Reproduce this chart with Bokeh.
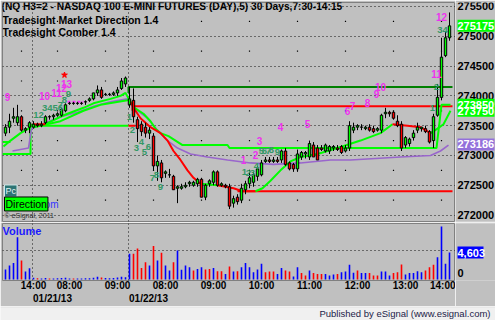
from bokeh.plotting import figure
from bokeh.models import Range1d, FixedTicker, ColumnDataSource, Label, LinearAxis
from bokeh.layouts import column, row
from bokeh.embed import file_html
from bokeh.resources import INLINE
from bokeh.core.properties import value

# ---------------- data (5-minute bars, index 0 = 01/18 13:40) ----------------
bar_open = [273375, 273475, 273625, 273550, 273650, 273425, 273475,
            273475, 273525, 273500, 273550, 273650, 273650, 273675, 273675, 273750, 273875, 273875,
            273875, 273875, 273900, 273925, 273950, 274050, 274100, 274025, 274025, 274025, 274050,
            274125, 274200,
            273850, 273925, 273600, 273525, 273475, 273375, 273325, 272825, 272875, 272700, 272675,
            272650, 272450, 272450, 272475, 272525, 272500, 272525, 272600, 272300, 272525, 272550,
            272725, 272500, 272500, 272475, 272200, 272300, 272250, 272425, 272525, 272550, 272650,
            272675, 272900, 272925, 272900, 272925, 272925, 273075, 272875, 272850, 272775, 272975,
            273025, 272975, 273175, 273125, 273125, 273075, 273075, 273125, 273125, 273150, 273075,
            273125, 273425, 273475, 273475, 273450, 273475, 273450, 273425, 273425, 273700, 273725,
            273725, 273575, 273525, 273175, 273200, 273300, 273425, 273450, 273450, 273400, 273250,
            273675, 273975, 274675, 274975]
bar_high = [273525, 273700, 273800, 273850, 273675, 273475, 273575,
            273575, 273550, 273575, 273675, 273675, 273700, 273725, 273800, 273875, 273900, 273900,
            273900, 273900, 273925, 273975, 274050, 274175, 274150, 274050, 274050, 274075, 274150,
            274300, 274325,
            274150, 274125, 273650, 273575, 273550, 273475, 273375, 273000, 272925, 272750, 272775,
            272675, 272500, 272525, 272550, 272575, 272575, 272625, 272625, 272525, 272600, 272750,
            272750, 272550, 272525, 272525, 272325, 272350, 272525, 272575, 272725, 272725, 272825,
            272925, 272975, 272975, 272975, 272975, 273100, 273125, 272900, 272875, 273100, 273075,
            273075, 273250, 273225, 273175, 273175, 273200, 273175, 273175, 273175, 273175, 273175,
            273575, 273550, 273525, 273525, 273500, 273525, 273500, 273475, 273700, 273800, 273750,
            273750, 273675, 273575, 273325, 273300, 273425, 273550, 273475, 273500, 273425, 273700,
            274200, 274975, 275075, 275400]
bar_low = [273325, 273375, 273550, 273500, 273400, 273375, 273375,
           273450, 273475, 273475, 273525, 273600, 273600, 273650, 273650, 273725, 273850, 273850,
           273850, 273850, 273850, 273900, 273925, 274000, 273950, 274000, 274000, 274000, 274000,
           274100, 274150,
           273800, 273550, 273225, 273325, 273300, 273275, 272750, 272575, 272550, 272625, 272625,
           272425, 272200, 272425, 272450, 272475, 272475, 272475, 272300, 272250, 272475, 272500,
           272475, 272475, 272450, 272100, 272125, 272175, 272200, 272350, 272450, 272475, 272575,
           272650, 272875, 272875, 272875, 272875, 272875, 272825, 272750, 272725, 272725, 272925,
           272950, 272925, 272975, 272925, 273075, 273050, 273025, 273075, 273075, 273025, 273050,
           273075, 273375, 273425, 273425, 273425, 273400, 273375, 273400, 273375, 273625, 273650,
           273600, 273475, 273075, 273125, 273150, 273250, 273375, 273400, 273375, 273200, 273125,
           273650, 273925, 274650, 274925]
bar_close = [273475, 273575, 273650, 273650, 273425, 273450, 273550,
             273525, 273500, 273525, 273650, 273650, 273675, 273700, 273775, 273850, 273875, 273875,
             273875, 273875, 273900, 273950, 274050, 274100, 273975, 274025, 274025, 274050, 274100,
             274250, 274300,
             273950, 273650, 273450, 273400, 273375, 273425, 272825, 272900, 272625, 272725, 272675,
             272425, 272475, 272475, 272500, 272550, 272550, 272600, 272300, 272500, 272575, 272725,
             272500, 272525, 272475, 272150, 272275, 272225, 272450, 272525, 272625, 272675, 272775,
             272875, 272925, 272900, 272925, 272900, 273075, 272850, 272775, 272775, 273025, 273050,
             273050, 273200, 272975, 272925, 273100, 273175, 273150, 273150, 273100, 273050, 273125,
             273500, 273475, 273500, 273475, 273475, 273425, 273400, 273450, 273675, 273725, 273700,
             273625, 273500, 273125, 273300, 273275, 273375, 273475, 273475, 273400, 273225, 273650,
             273975, 274650, 274975, 275175]
volume = [1700, 2400, 2800, 7200, 3250, 1350, 1900,
          300, 200, 150, 250, 150, 150, 200, 250, 300, 150, 150, 150, 150, 200, 200, 300, 450, 350,
          250, 200, 250, 350, 450, 400,
          4400, 4400, 5300, 1950, 2950, 2400, 5700, 3250, 4550, 2400, 1550, 2950, 4950, 1650, 2400,
          2100, 1550, 1800, 2100, 1700, 1800, 1950, 1400, 1400, 950, 2200, 1350, 1400, 2100, 2800,
          2100, 1250, 1700, 2700, 1250, 1350, 1350, 950, 1950, 1550, 1350, 500, 2100, 1100, 700,
          1550, 1100, 950, 950, 950, 700, 850, 950, 1250, 1350, 2500, 1150, 1550, 1100, 1100, 1100,
          700, 700, 1350, 1350, 700, 1100, 1250, 2550, 850, 1100, 1100, 1400, 1250, 1550, 2100,
          2500, 3800, 9050, 2700, 4603]
volume_up = [1, 1, 1, 1, 0, 1, 1,
             1, 0, 1, 1, 0, 1, 1, 1, 1, 1, 0, 1, 1, 1, 1, 1, 1, 0, 1, 1, 1, 1, 1, 1,
             1, 0, 0, 0, 0, 1, 0, 1, 0, 1, 1, 0, 1, 1, 1, 1,
             0, 1, 1, 0, 0, 1, 0, 0, 1, 0, 1, 0, 1, 1, 1,
             1, 1, 1, 0, 0, 0, 1, 1, 0, 0, 1, 1, 0, 0, 1, 0, 0, 0, 1, 1, 1, 0, 1, 1, 1,
             1, 0, 1, 1, 0, 0, 0, 1, 1, 1, 0, 0, 0, 1, 1, 1, 1, 1, 0, 0, 0, 1, 1, 1, 1]

price_levels = [272000, 272500, 273000, 273500, 274000, 274500, 275000, 275500]
hour_ticks = [4, 13, 25, 37, 49, 61, 73, 85, 97, 109]
hour_labels = ["14:00", "08:00", "09:00", "08:00", "09:00", "10:00", "11:00", "12:00", "13:00", "14:00"]
day_starts = [7, 31]
day_labels = ["01/21/13", "01/22/13"]
volume_grid = [5000]
volume_levels = [0]

# Tradesight Market Direction line: segments and their colours
md_xs = [[-0.5, 1.25, 3.75, 5.75, 6.75],
         [6.75, 10],
         [10, 13.75, 15.5, 19.5, 22, 26.25, 28.75, 30, 31],
         [31, 32, 33.75, 36.25, 38.75, 40.5, 42, 43.75, 45.5, 47, 48.75],
         [48.75, 53],
         [53, 57, 59.25, 62.5],
         [62.5, 64.25, 66.25, 68.75, 71.25, 73.75, 78, 83, 88.75, 93.75, 96.75],
         [96.75, 100.5, 103.75, 106.25],
         [106.25, 108, 109.5, 111.25]]
md_ys = [[273150, 273250, 273375, 273450, 273525],
         [273525, 273525],
         [273525, 273650, 273700, 273800, 273875, 273950, 274000, 274050, 273925],
         [273925, 273800, 273625, 273475, 273375, 273250, 273075, 272925, 272750, 272625, 272525],
         [272525, 272500],
         [272500, 272450, 272400, 272400],
         [272400, 272450, 272575, 272750, 272900, 272975, 273025, 273125, 273250, 273375, 273525],
         [273525, 273500, 273475, 273375],
         [273375, 273450, 273525, 273750]]
md_colors = ["#00ff00", "#ff0000", "#00ff00", "#ff0000", "#00ff00", "#ff0000", "#00ff00", "#ff0000", "#00ff00"]

# Tradesight Comber trailing line
comber_x = [7, 13.75, 19.5, 23.75, 30.5, 31, 32.25, 34.5, 36.25, 37.5, 38.75, 40.75, 42.5, 44.25,
            55.5, 56, 107.75, 109, 111.25]
comber_y = [273475, 273575, 273750, 273850, 273925, 273925, 273800, 273700, 273575, 273450, 273375,
            273325, 273250, 273175, 273175, 273125, 273125, 273850, 273850]

# horizontal level lines
level_xs = [[-0.75, 6.25, 6.25, 30.75], [30.75, 32.5], [30.75, 30.75, 111.75],
            [31.75, 31.75, 111.75], [58, 111.75], [-0.75, 1.25]]
level_ys = [[273025, 273025, 273500, 273500], [273500, 273500], [274050, 274150, 274150],
            [273750, 273825, 273825], [272400, 272400], [273225, 273225]]
level_colors = ["#00ff00", "#ff0000", "#008000", "#ff0000", "#ff0000", "#00ff00"]

# slow average (purple)
purple_x = [1.75, 5.75, 6.5, 10, 13.75, 18, 22, 26.25, 30.5, 32, 35.5, 38, 40.5, 43, 46.25, 50.5,
            55.5, 61.25, 67, 73.75, 81.25, 86.25, 98.75, 106.25, 108.75, 110.75]
purple_y = [273075, 273125, 273450, 273550, 273650, 273725, 273825, 273900, 273950, 273800, 273625,
            273425, 273250, 273125, 273025, 272975, 272925, 272875, 272850, 272875, 272925, 272925,
            272975, 273000, 273075, 273175]

dash_x = [15.5, 19.5]
dash_y = [273900, 273900]
signal_x = [14.75]
signal_y = [274350]

magenta_x = [0.5, 9.75, 12.75, 14, 15.25, 59.5, 62.5, 63.5, 68.75, 75.5, 85.5, 86.75, 90.5, 92.75,
             93.75, 107.75, 109]
magenta_y = [273975, 274000, 274050, 274125, 274200, 272925, 273000, 273250, 273475, 273525, 273750,
             273825, 273875, 274025, 274150, 274375, 275325]
magenta_t = ["9", "10", "11", "12", "13", "1", "2", "3", "4", "5", "6", "7", "8", "9", "10", "11", "12"]

teal_x = [8.25, 11.75, 13.75, 14.75, 15.75, 31, 31.75, 32.75, 34, 34.75, 35.75, 36.75, 37.75, 38.75,
          59.75, 60.75, 61.75, 62.75, 64, 64.75, 65.75, 66.5, 68, 106.75, 107.75, 109.25]
teal_y = [273675, 273800, 273850, 273925, 274025, 273650, 273425, 273125, 273225, 273050, 273150,
          272625, 272675, 272475, 272725, 272700, 272700, 272825, 273075, 273075, 273075, 273100,
          273050, 273800, 274150, 275100]
teal_t = ["12", "3456", "7", "8", "9", "1", "2", "3", "4", "5", "6", "7", "8", "9",
          "1", "2", "3", "4", "5", "6", "7", "8", "9", "1", "2", "34"]

# right-scale value markers: value, box colour
marker_values = [273750, 273850, 273186, 275175]
marker_colors = ["#00ff00", "#00ff00", "#9370db", "#00ff00"]
last_volume = 4603

# ---------------- styling ----------------
BG = "#c0c0c0"
FONT = "Liberation Sans"
UP, DN = "#00ff00", "#ff0000"


def xpx(px):  # window pixel -> bar index (for placing annotations)
    return (px - 5) / 4.0


def ypx(py):  # window pixel -> price (for placing annotations)
    return 273000 + (155 - py) * 16.78


def vpx(py):  # window pixel -> volume (for placing annotations)
    return (279 - py) * 170.5


def style_axis(a, size):
    a.major_label_text_font = FONT
    a.major_label_text_font_size = size
    a.major_label_text_font_style = "bold"
    a.major_label_text_color = "black"
    a.major_tick_line_color = None
    a.minor_tick_line_color = None
    a.major_tick_out = 0
    a.major_tick_in = 0
    a.minor_tick_out = 0
    a.minor_tick_in = 0
    a.axis_line_color = None


def strip(height, y_range, top, bottom):
    s = figure(width=40, height=height, x_range=Range1d(0, 40), y_range=y_range,
               x_axis_location=None, y_axis_location=None, output_backend="svg",
               toolbar_location=None, min_border_left=0, min_border_right=0,
               min_border_top=top, min_border_bottom=bottom,
               background_fill_color=BG, border_fill_color=BG, outline_line_color=None)
    s.grid.visible = False
    return s


xr = Range1d(-0.75, 112.5)
pr = Range1d(271892, 275567)

p = figure(width=455, height=222, x_range=xr, y_range=pr,
           x_axis_location=None, y_axis_location=None, output_backend="svg",
           toolbar_location=None, min_border_left=2, min_border_right=0, min_border_top=2,
           min_border_bottom=1, background_fill_color=BG, border_fill_color=BG,
           outline_line_color="#808080")

p.ygrid.ticker = FixedTicker(ticks=price_levels)
p.xgrid.ticker = FixedTicker(ticks=[d - 0.2 for d in day_starts])
for g in (p.xgrid[0], p.ygrid[0]):
    g.grid_line_color = "black"
    g.grid_line_dash = "1 3"
    g.grid_line_alpha = 0.9

# sparse hour grid dots
mid_levels = [lv + 250 for lv in price_levels[:-1]]
p.scatter([h for h in hour_ticks for _ in mid_levels], [m for _ in hour_ticks for m in mid_levels],
          marker="square", size=1.2, color="black", line_width=0)

# indicator lines
p.multi_line(xs="xs", ys="ys", line_color="c", line_width=2,
             source=ColumnDataSource(dict(xs=level_xs, ys=level_ys, c=level_colors)))
p.line(purple_x, purple_y, line_color="#9966cc", line_width=1.6)
p.line(comber_x, comber_y, line_color="#00ff00", line_width=2)
p.multi_line(xs="xs", ys="ys", line_color="c", line_width=2,
             source=ColumnDataSource(dict(xs=md_xs, ys=md_ys, c=md_colors)))
p.line(dash_x, dash_y, line_color="#ff33ff", line_width=2, line_dash="3 2")
p.scatter(signal_x, signal_y, marker="star", size=6, color="#ff0000")

# candles
idx = list(range(len(bar_open)))
csrc = ColumnDataSource(dict(
    x=idx, h=bar_high, l=bar_low,
    top=[max(o, c) for o, c in zip(bar_open, bar_close)],
    bot=[min(o, c) for o, c in zip(bar_open, bar_close)],
    col=[UP if c >= o else DN for o, c in zip(bar_open, bar_close)]))
p.segment(x0="x", y0="h", x1="x", y1="l", line_color="black", line_width=1, source=csrc)
p.vbar(x="x", top="top", bottom="bot", width=0.6, fill_color="col", line_color="black",
       line_width=1, source=csrc)

# count labels
p.text(x=magenta_x, y=magenta_y, text=magenta_t, text_font=value(FONT), text_font_size="10px",
       text_font_style="bold", text_color="#ee33ee", text_align="center", text_baseline="middle")
p.text(x=teal_x, y=teal_y, text=teal_t, text_font=value(FONT), text_font_size="9.5px",
       text_font_style="bold", text_color="#339966", text_align="center", text_baseline="middle")

# titles
titles = [("(NQ H3=2 - NASDAQ 100 E-MINI FUTURES (DAY),5) 30 Days,7:30-14:15", 1, 6.5, "10.2px"),
          ("Tradesight Market Direction 1.4", 2, 19.5, "10.5px"),
          ("Tradesight Comber 1.4", 2, 31.5, "10.5px")]
for t, px, py, fs in titles:
    p.add_layout(Label(x=xpx(px), y=ypx(py), text=t, text_font=FONT, text_font_size=fs,
                       text_font_style="bold", text_color="black", text_align="left",
                       text_baseline="middle"))

# bottom-left badges
p.add_layout(Label(x=xpx(58), y=ypx(204), text=".com", text_font=FONT, text_font_size="10px",
                   text_color="#3333ff", text_align="right", text_baseline="middle"))
p.add_layout(Label(x=xpx(4), y=ypx(190.5), text="Pc", text_font=FONT, text_font_size="9px",
                   text_color="#e0f4f4", text_align="left", text_baseline="middle",
                   background_fill_color="#2d7474", border_line_color="#d0e8e8", padding=1))
p.add_layout(Label(x=xpx(4), y=ypx(203.5), text="Direction", text_font=FONT,
                   text_font_size="10.5px", text_color="black", text_align="left",
                   text_baseline="middle", background_fill_color="#00ff00",
                   border_line_color="black", padding=1))
p.add_layout(Label(x=xpx(4), y=ypx(215), text="\u00a9 eSignal, 2011", text_font=FONT,
                   text_font_size="7px", text_color="#303030", text_align="left",
                   text_baseline="middle"))

# ---------------- price scale strip ----------------
ps = strip(222, pr, 2, 1)
ps.text(x=[2] * len(price_levels), y=price_levels, text=[str(lv) for lv in price_levels],
        text_font=value(FONT), text_font_size="11px", text_font_style="bold",
        text_color="black", text_align="left", text_baseline="middle")
ps.rect(x=[20.5] * len(marker_values), y=marker_values, width=37, height=12,
        width_units="screen", height_units="screen", fill_color=marker_colors, line_color=None)
ps.text(x=[2] * len(marker_values), y=marker_values, text=[str(m) for m in marker_values],
        text_font=value(FONT), text_font_size="11px", text_font_style="bold",
        text_color="white", text_align="left", text_baseline="middle")

# ---------------- volume panel ----------------
vr = Range1d(-170, 9550)
v = figure(width=455, height=84, x_range=xr, y_range=vr, y_axis_location=None,
           output_backend="svg", toolbar_location=None,
           min_border_left=2, min_border_right=0, min_border_top=1, min_border_bottom=26,
           background_fill_color=BG, border_fill_color=BG, outline_line_color="#808080")
vsrc = ColumnDataSource(dict(x=idx, vol=volume,
                             col=["#0000ff" if u else "#ff0000" for u in volume_up]))
v.vbar(x="x", top="vol", bottom=0, width=0.4, fill_color="col", line_color=None, source=vsrc)

v.ygrid.ticker = FixedTicker(ticks=volume_grid)
v.xgrid.ticker = FixedTicker(ticks=[d - 0.2 for d in day_starts])
for g in (v.xgrid[0], v.ygrid[0]):
    g.grid_line_color = "black"
    g.grid_line_dash = "1 3"
    g.grid_line_alpha = 0.9

time_pos = [h + 3 for h in hour_ticks]
date_pos = [d + 4.75 for d in day_starts]
ax_t = v.xaxis[0]
ax_t.ticker = FixedTicker(ticks=time_pos)
ax_t.major_label_overrides = {tp: lab for tp, lab in zip(time_pos, hour_labels)}
ax_d = LinearAxis(ticker=FixedTicker(ticks=date_pos),
                  major_label_overrides={dp: lab for dp, lab in zip(date_pos, day_labels)})
v.add_layout(ax_d, "below")
for a in (ax_t, ax_d):
    style_axis(a, "10px")
ax_t.major_label_standoff = -1
ax_d.major_label_standoff = -1

v.add_layout(Label(x=xpx(2), y=vpx(230), text="Volume", text_font=FONT, text_font_size="11px",
                   text_font_style="bold", text_color="#1a1aff", text_align="left",
                   text_baseline="middle"))

vs = strip(84, vr, 1, 26)
vs.text(x=[2] * len(volume_levels), y=volume_levels, text=[str(lv) for lv in volume_levels],
        y_offset=-7, text_font=value(FONT), text_font_size="11px", text_font_style="bold",
        text_color="black", text_align="left", text_baseline="middle")
vs.rect(x=[15], y=[last_volume], width=26, height=12, width_units="screen",
        height_units="screen", fill_color="#0000ff", line_color=None)
vs.text(x=[2], y=[last_volume], text=[f"{last_volume:,}"], text_font=value(FONT),
        text_font_size="11px", text_font_style="bold", text_color="white", text_align="left",
        text_baseline="middle")

# ---------------- footer ----------------
f = figure(width=495, height=14, x_range=Range1d(0, 495), y_range=Range1d(0, 14),
           x_axis_location=None, y_axis_location=None, output_backend="svg",
           toolbar_location=None, min_border=0, background_fill_color="#f0f0f0",
           border_fill_color="#f0f0f0", outline_line_color=None)
f.grid.visible = False
f.segment(x0=[0], y0=[13.5], x1=[495], y1=[13.5], line_color="#e0e0e0", line_width=1)
f.text(x=[490], y=[7], text=["Published by eSignal (www.esignal.com)"], text_font=value(FONT),
       text_font_size="9.5px", text_color="#1c1c48", text_align="right", text_baseline="middle")

layout = column(row(p, ps, spacing=0), row(v, vs, spacing=0), f, spacing=0)
open("out.html", "w").write(file_html(layout, INLINE))
